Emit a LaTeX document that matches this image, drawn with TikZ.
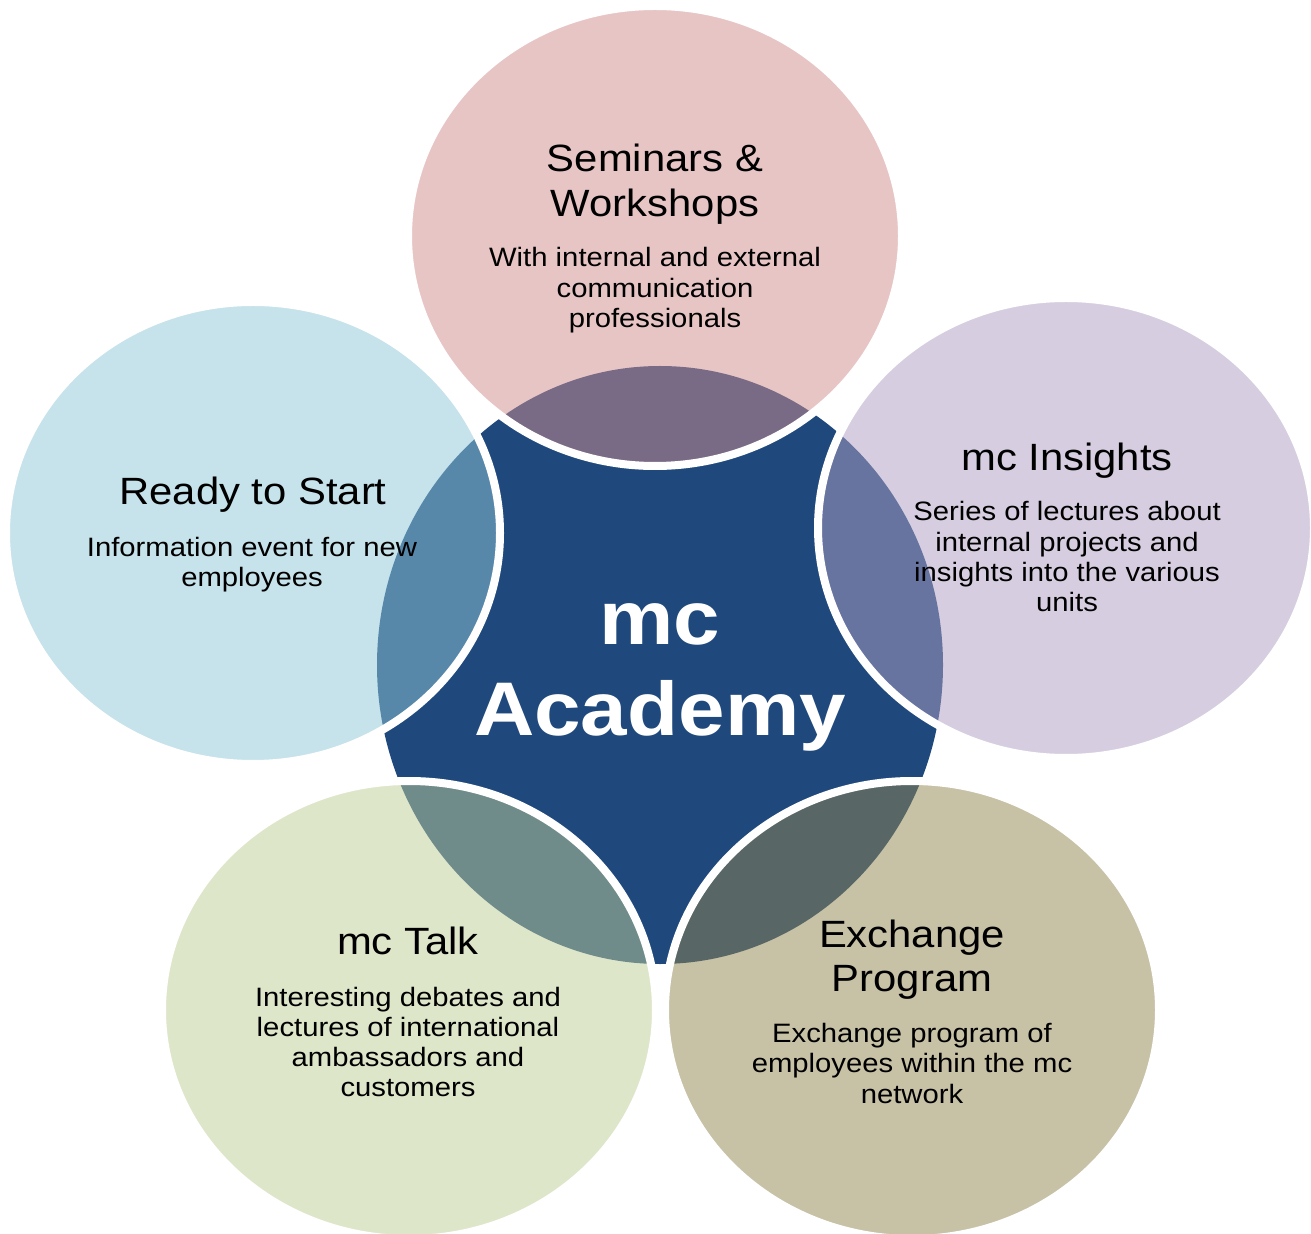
\documentclass[tikz,border=0pt]{standalone}
\usepackage{fontspec}
\setmainfont{Liberation Sans}[FakeStretch=1.1]
\definecolor{hubblue}{RGB}{31,73,125}
\definecolor{pk}{RGB}{211,141,141}
\definecolor{lb}{RGB}{143,199,215}
\definecolor{lv}{RGB}{175,159,195}
\definecolor{gr}{RGB}{191,207,151}
\definecolor{kh}{RGB}{145,133,79}
\tikzset{
  bubble/.style={draw=white, line width=4pt, fill opacity=0.5, draw opacity=1},
  ttl/.style={font=\fontsize{19}{23}\selectfont, anchor=base, inner sep=0pt, text=black},
  bdy/.style={font=\fontsize{13.3}{15}\selectfont, anchor=base, inner sep=0pt, text=black},
  hub/.style={font=\fontsize{38}{45}\selectfont\bfseries, anchor=base, inner sep=0pt, text=white}
}
\begin{document}
\begin{tikzpicture}[x=0.5pt, y=-0.5pt]
\useasboundingbox (0,0) rectangle (1311,1234);
\fill[white] (0,0) rectangle (1311,1234);
% central hub
\fill[hubblue] (660,665) ellipse [x radius=283, y radius=299];
% outer bubbles
\path[bubble, fill=pk] (655,236) ellipse [x radius=247, y radius=230];
\path[bubble, fill=lb] (253,533) ellipse [x radius=247, y radius=231];
\path[bubble, fill=lv] (1066,528) ellipse [x radius=248, y radius=230];
\path[bubble, fill=gr] (409,1010) ellipse [x radius=247, y radius=229];
\path[bubble, fill=kh] (912,1010) ellipse [x radius=247, y radius=229];
% hub text
\node[hub] (hub1) at (660,645) {mc};
\node[hub] (hub2) at (660,735) {Academy};
% top
\node[ttl] (s1) at (655,172) {Seminars \& };
\node[ttl] (s2) at (655,217) {Workshops};
\node[bdy] (sb1) at (655,267) {With internal and external};
\node[bdy] (sb2) at (655,298) {communication};
\node[bdy] (sb3) at (655,328) {professionals};
% left
\node[ttl] (r1) at (253,505) {Ready to Start};
\node[bdy] (rb1) at (252,557) {Information event for new};
\node[bdy] (rb2) at (252,587) {employees};
% right
\node[ttl] (i1) at (1067,471) {mc Insights};
\node[bdy] (ib1) at (1067,521) {Series of lectures about};
\node[bdy] (ib2) at (1067,552) {internal projects and};
\node[bdy] (ib3) at (1067,582) {insights into the various};
\node[bdy] (ib4) at (1067,612) {units};
% bottom left
\node[ttl] (k1) at (408,954) {mc Talk};
\node[bdy] (kb1) at (408,1006) {Interesting debates and};
\node[bdy] (kb2) at (408,1036) {lectures of international};
\node[bdy] (kb3) at (408,1066) {ambassadors and};
\node[bdy] (kb4) at (408,1096) {customers};
% bottom right
\node[ttl] (e1) at (912,947) {Exchange};
\node[ttl] (e2) at (912,991) {Program};
\node[bdy] (eb1) at (912,1042) {Exchange program of};
\node[bdy] (eb2) at (912,1072) {employees within the mc};
\node[bdy] (eb3) at (912,1103) {network};
\end{tikzpicture}
\end{document}
